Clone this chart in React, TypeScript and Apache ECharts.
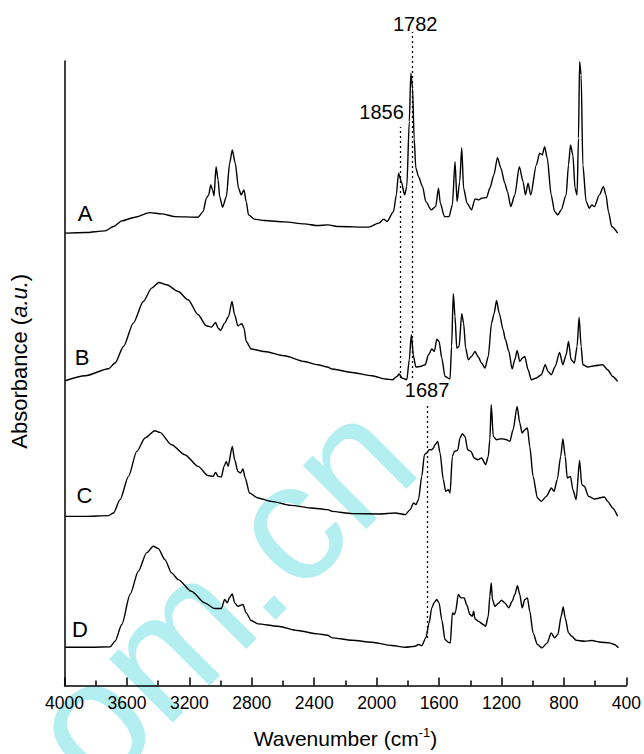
import { useEffect, useRef } from 'react';
import * as echarts from 'echarts';

// Wavenumber (cm-1) and absorbance (a.u., offset-stacked)
const wnA = [3995, 3867, 3740, 3686, 3633, 3548, 3453, 3378, 3293, 3144, 3112, 3091, 3076, 3063, 3051, 3042, 3029, 3016, 3006, 2987, 2963, 2942, 2925, 2906, 2885, 2868, 2850, 2836, 2821, 2783, 2719, 2591, 2464, 2378, 2315, 2242, 2051, 1987, 1955, 1934, 1892, 1874, 1860, 1842, 1821, 1807, 1791, 1781, 1770, 1760, 1749, 1732, 1706, 1685, 1651, 1622, 1604, 1592, 1566, 1536, 1515, 1498, 1485, 1468, 1455, 1443, 1421, 1392, 1370, 1345, 1328, 1296, 1275, 1249, 1226, 1204, 1179, 1162, 1141, 1115, 1086, 1062, 1047, 1030, 1013, 977, 956, 939, 924, 907, 882, 860, 839, 818, 786, 771, 758, 743, 729, 716, 707, 700, 690, 679, 658, 637, 622, 605, 573, 547, 531, 515, 494, 456];
const absA = [452.7, 453.3, 455, 459.3, 465, 468.7, 473.3, 472, 469.3, 468.7, 474.3, 487.7, 491, 501, 496, 490, 519.3, 506, 489.3, 478.7, 489.3, 522.7, 536, 522.7, 497.7, 491, 496, 484.3, 471, 466.7, 465.3, 464, 462, 460.3, 461, 459.3, 458.7, 462.7, 466.7, 464.3, 474.3, 491, 512.7, 504.3, 491, 499.3, 564.3, 612.7, 597.7, 547.7, 517.7, 509.3, 499.3, 484.3, 476, 479.3, 497.7, 482.7, 469.3, 469.3, 481, 524.3, 484.3, 504.3, 538.3, 497.7, 482.7, 476, 487, 486, 487.7, 488.3, 497.7, 511, 528.3, 517.7, 502.7, 494.3, 479.3, 491, 519.3, 504.3, 491, 502.7, 491, 521, 532.7, 531, 539.3, 527.7, 491, 474.3, 471, 476, 491, 521, 541, 531, 497.7, 491, 547.7, 624.3, 611, 521, 484.3, 477.7, 481, 479.3, 491, 499.3, 491, 474.3, 459.3, 452.7];

const wnB = [3995, 3867, 3718, 3676, 3622, 3559, 3495, 3442, 3395, 3346, 3271, 3208, 3144, 3091, 3059, 3032, 3016, 3000, 2974, 2949, 2927, 2910, 2889, 2863, 2850, 2836, 2804, 2719, 2591, 2464, 2378, 2315, 2285, 2158, 2030, 1944, 1898, 1870, 1855, 1838, 1807, 1791, 1778, 1764, 1749, 1721, 1689, 1668, 1647, 1630, 1615, 1600, 1583, 1562, 1530, 1520, 1509, 1498, 1487, 1472, 1455, 1443, 1430, 1413, 1392, 1370, 1349, 1328, 1306, 1285, 1264, 1247, 1232, 1215, 1190, 1175, 1153, 1132, 1115, 1100, 1083, 1066, 1051, 1030, 1009, 977, 945, 920, 902, 881, 856, 828, 807, 786, 771, 754, 733, 716, 703, 690, 679, 647, 605, 552, 520, 488, 456];
const absB = [305, 310, 317, 322.7, 339.3, 362.7, 384.3, 397.7, 403.3, 401, 394.3, 386, 371, 360, 358.7, 363.3, 357.7, 355.3, 362.7, 369.3, 384.3, 371, 360, 362, 357.7, 344.3, 336.7, 334.3, 330, 324.3, 321, 318.7, 316.7, 313.3, 310, 306.7, 306, 309.3, 311.7, 307.7, 306, 326, 351, 329.3, 318.7, 319.3, 321, 331, 336.7, 334.3, 346.7, 344.3, 327.7, 309.3, 306.7, 339.3, 392, 369.3, 337.7, 339.3, 372, 362.7, 337.7, 326, 329.3, 334.3, 328.7, 322.7, 317.7, 329.3, 362.7, 372.7, 385.3, 372.7, 356, 346, 334.3, 316.7, 326, 335.3, 324.3, 327.7, 329.3, 316, 306, 307.7, 311, 321, 314.3, 311, 319.3, 333.3, 321, 331, 344.3, 326, 322.7, 339.3, 368.7, 339.3, 321, 318.7, 320, 321, 316, 309.3, 304.3];

const wnC = [3995, 3867, 3718, 3686, 3644, 3590, 3537, 3484, 3421, 3389, 3314, 3229, 3144, 3080, 3048, 3032, 3016, 2995, 2978, 2963, 2952, 2925, 2910, 2889, 2872, 2857, 2842, 2815, 2761, 2676, 2549, 2421, 2315, 2285, 2158, 1987, 1881, 1817, 1785, 1764, 1749, 1732, 1711, 1694, 1679, 1664, 1647, 1636, 1626, 1609, 1594, 1573, 1558, 1541, 1530, 1515, 1502, 1481, 1466, 1451, 1434, 1417, 1396, 1375, 1353, 1328, 1302, 1285, 1275, 1266, 1253, 1232, 1200, 1168, 1147, 1126, 1100, 1083, 1068, 1051, 1034, 1019, 998, 970, 945, 913, 881, 864, 843, 821, 807, 792, 779, 758, 743, 722, 700, 686, 669, 643, 605, 541, 520, 488, 456];
const absC = [169.3, 169.3, 170, 172.7, 186, 209.3, 234.3, 247.7, 255, 253.3, 241, 231, 219.3, 210, 209.3, 213.3, 209.3, 208.7, 219.3, 224.3, 219.3, 239.3, 226, 214.3, 212.7, 216.7, 207.7, 192.7, 187.7, 184.3, 180.3, 177.7, 176, 174.3, 172, 171.7, 172.7, 171, 176, 182.7, 181, 186, 209.3, 231, 232.7, 236, 236, 237.7, 241, 244.3, 232.7, 206, 194.3, 196, 192.7, 229.3, 234.3, 235.3, 247.7, 252, 249.3, 236, 234.3, 227.7, 226, 227.7, 221, 229.3, 246, 281, 249.3, 246, 247, 246, 244.3, 256, 279.3, 262.7, 252.7, 256, 257.7, 239.3, 209.3, 187.7, 184.3, 189.3, 197.7, 194.3, 206, 229.3, 246.7, 229.3, 207.7, 209.3, 196, 186, 225.3, 201, 199.3, 189.3, 186.7, 188.7, 184.3, 177.7, 169.3];

const wnD = [3995, 3825, 3708, 3676, 3633, 3580, 3527, 3474, 3431, 3399, 3357, 3314, 3271, 3187, 3102, 3038, 2995, 2974, 2957, 2942, 2925, 2910, 2889, 2872, 2857, 2836, 2804, 2761, 2634, 2506, 2378, 2315, 2285, 2158, 2030, 1902, 1817, 1753, 1732, 1711, 1685, 1664, 1647, 1630, 1615, 1600, 1583, 1562, 1541, 1528, 1515, 1502, 1494, 1477, 1460, 1439, 1424, 1402, 1387, 1379, 1370, 1349, 1317, 1302, 1285, 1275, 1266, 1258, 1243, 1222, 1200, 1179, 1153, 1132, 1115, 1098, 1083, 1068, 1051, 1034, 1019, 998, 970, 941, 907, 882, 860, 839, 818, 805, 792, 771, 750, 722, 669, 622, 563, 509, 477, 451];
const absD = [38.3, 38.3, 38.7, 44.3, 61, 91, 114.3, 132.7, 139.3, 137, 126, 112.7, 106, 94.3, 82.7, 77, 77, 86, 82.7, 88.3, 91.7, 82.7, 79.3, 80.3, 81, 72.7, 65, 61.7, 59.3, 55, 51.7, 50.3, 47.7, 45.3, 43.3, 40, 38.3, 39.3, 41, 40, 47.7, 62.7, 77.7, 83.3, 86, 82.7, 66, 46, 43.3, 42.7, 72.7, 71, 74.3, 91, 87.7, 87.7, 81, 71, 69.3, 74.3, 66.7, 64.3, 61, 59.3, 69.3, 89.3, 102.7, 86, 79.3, 82, 85.3, 82.7, 77.7, 84.3, 91, 100, 91, 77.7, 86, 87.7, 74.3, 52.7, 41, 37.7, 42.7, 52.7, 47.7, 51, 69.3, 78.7, 67.7, 52.7, 49.3, 45.3, 44.3, 45, 43.3, 42.7, 41, 37.7];

const sampleNames = ['A', 'B', 'C', 'D'];

// Marked bands: wavenumber, dotted line bottom / top (same absorbance units)
const bandWn = [1856, 1782, 1687];
const bandLow = [308, 308, 48];
const bandHigh = [559, 654, 281];

const FONT = '"Liberation Sans", Arial, Helvetica, sans-serif';

function pairs(xs: number[], ys: number[]) {
  return xs.map((x, i) => [x, ys[i]]);
}

export default function App() {
  const ref = useRef<HTMLDivElement>(null);

  useEffect(() => {
    if (!ref.current) return;
    const chart = echarts.init(ref.current, undefined, { renderer: 'svg' });

    const specs = [
      { name: sampleNames[0], data: pairs(wnA, absA) },
      { name: sampleNames[1], data: pairs(wnB, absB) },
      { name: sampleNames[2], data: pairs(wnC, absC) },
      { name: sampleNames[3], data: pairs(wnD, absD) },
    ];

    const labelOffsets = [[-19, 0], [3, 7], [0, 0]];

    const series: any[] = specs.map((s) => ({
      type: 'line',
      name: s.name,
      data: s.data,
      showSymbol: false,
      symbol: 'none',
      smooth: 0.25,
      smoothMonotone: 'x',
      lineStyle: { color: '#000', width: 1.4 },
      z: 3,
    }));

    // annotation layer: same x scale, y axis extended to the top of the page (same units)
    series.push({
      type: 'line',
      name: 'bands',
      xAxisIndex: 1,
      yAxisIndex: 1,
      data: [],
      silent: true,
      markLine: {
        silent: true,
        symbol: 'none',
        animation: false,
        lineStyle: { color: '#000', type: [2, 3], width: 1.3 },
        data: bandWn.map((w, i) => [
          { coord: [w, bandLow[i]] },
          {
            coord: [w, bandHigh[i]],
            label: {
              show: true,
              position: 'end',
              formatter: String(w),
              color: '#000',
              fontSize: 20,
              fontFamily: FONT,
              offset: labelOffsets[i],
            },
          },
        ]),
      },
    });

    const letterPos = [
      [85, 213],
      [82, 357.5],
      [84.5, 495.5],
      [80, 629],
    ];

    chart.setOption({
      animation: false,
      backgroundColor: '#fff',
      grid: [
        { left: 64.5, right: 15.2, top: 61, bottom: 68 },
        { left: 64.5, right: 15.2, top: 0, bottom: 68 },
      ],
      xAxis: [
        {
          type: 'value',
          gridIndex: 0,
          inverse: true,
          min: 400,
          max: 4000,
          interval: 400,
          axisLine: { show: true, onZero: false, lineStyle: { color: '#000', width: 1.5 } },
          axisTick: { show: true, inside: true, length: 8, lineStyle: { color: '#000', width: 1.5 } },
          minorTick: { show: true, splitNumber: 2, length: 5, lineStyle: { color: '#000', width: 1.5 } },
          splitLine: { show: false },
          axisLabel: {
            color: '#000',
            fontSize: 17.5,
            fontFamily: FONT,
            margin: 8,
            formatter: (v: number) => String(v),
          },
          name: '{a|Wavenumber (cm}{s|-1}{a|)}',
          nameLocation: 'middle',
          nameGap: 40,
          nameTextStyle: {
            rich: {
              a: { fontSize: 21, fontFamily: FONT, color: '#000', lineHeight: 26 },
              s: { fontSize: 13, fontFamily: FONT, color: '#000', verticalAlign: 'top', lineHeight: 26 },
            },
          },
        },
        {
          type: 'value',
          gridIndex: 1,
          inverse: true,
          min: 400,
          max: 4000,
          interval: 400,
          show: false,
        },
      ],
      yAxis: [
        {
          type: 'value',
          gridIndex: 0,
          min: 0,
          max: 625,
          axisLine: { show: true, lineStyle: { color: '#000', width: 1.5 } },
          axisTick: { show: false },
          axisLabel: { show: false },
          splitLine: { show: false },
          name: '{a|Absorbance (}{i|a.u.}{a|)}',
          nameLocation: 'middle',
          nameGap: 34,
          nameTextStyle: {
            padding: [0, 0, 0, 24],
            rich: {
              a: { fontSize: 22, fontFamily: FONT, color: '#000' },
              i: { fontSize: 22, fontFamily: FONT, color: '#000', fontStyle: 'italic' },
            },
          },
        },
        {
          type: 'value',
          gridIndex: 1,
          min: 0,
          max: 686,
          show: false,
        },
      ],
      graphic: [
        {
          type: 'text',
          x: 116,
          y: 816,
          rotation: Math.PI / 4,
          z: 0,
          silent: true,
          style: {
            text: 'om.cn',
            fill: '#b3eef0',
            fontSize: 170,
            fontFamily: FONT,
            textAlign: 'left',
            textVerticalAlign: 'bottom',
          },
        },
        ...sampleNames.map((n, i) => ({
          type: 'text',
          x: letterPos[i][0],
          y: letterPos[i][1],
          z: 10,
          style: {
            text: n,
            fill: '#000',
            fontSize: 22,
            fontFamily: FONT,
            textAlign: 'center',
            textVerticalAlign: 'middle',
          },
        })),
      ],
      series,
    });

    return () => chart.dispose();
  }, []);

  return (
    <div
      ref={ref}
      style={{ position: 'fixed', left: 0, top: 0, width: 644, height: 754 }}
    />
  );
}
